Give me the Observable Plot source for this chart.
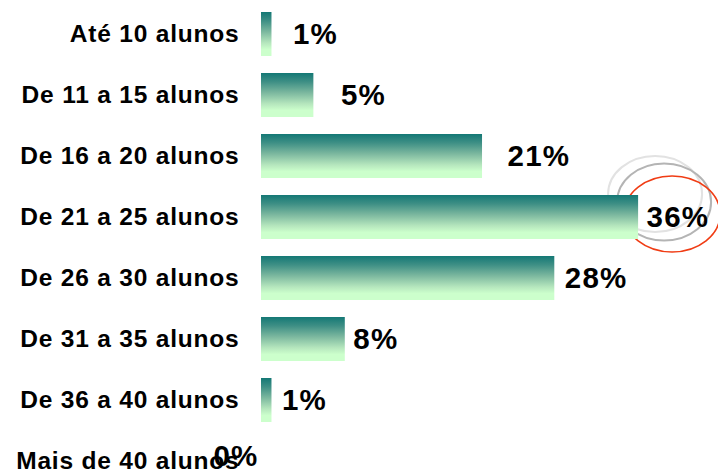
<!DOCTYPE html>
<html><head><meta charset="utf-8">
<script src="https://cdn.jsdelivr.net/npm/d3@7"></script>
<script src="https://cdn.jsdelivr.net/npm/@observablehq/plot@0.6"></script>
<style>
body{margin:0;background:#fff}
</style>
</head><body><div id="chart"></div>
<script>
const categories = ["Até 10 alunos","De 11 a 15 alunos","De 16 a 20 alunos","De 21 a 25 alunos","De 26 a 30 alunos","De 31 a 35 alunos","De 36 a 40 alunos","Mais de 40 alunos"];
const values = [1, 5, 21.1, 36, 28, 8, 1, 0];
const valueLabels = ["1%","5%","21%","36%","28%","8%","1%","0%"];
const highlighted = "De 21 a 25 alunos";

const data = categories.map((c, i) => ({category: c, value: values[i], label: valueLabels[i]}));
// label nudges (styling), per row
const labelNudge = [21, 27, 25, 8, 10, 8, 10, -48];
const labelLift = [0, 0, 0, 0, 0, 0, 0, -5];

const font = "'Liberation Sans', Arial, Helvetica, sans-serif";

const chart = Plot.plot({
  width: 718, height: 473, margin: 0,
  style: {fontFamily: font, background: "white", overflow: "visible"},
  x: {domain: [0, 40], range: [261, 680], axis: null},
  y: {domain: categories, range: [3, 492], paddingInner: 0.28, paddingOuter: 0.14, axis: null},
  marks: [
    Plot.barX(data, {x: "value", y: "category", fill: "#1a7a78"}),
    Plot.text(data, {x: 0, y: "category", text: "category", textAnchor: "end", dx: -22,
      fontSize: 24.5, fontWeight: "bold", fill: "black"}),
    ...data.map((d, i) => Plot.text([d], {x: "value", y: "category", text: "label", textAnchor: "start",
      dx: labelNudge[i], dy: labelLift[i], fontSize: 29.5, fontWeight: "bold", fill: "black"}))
  ]
});

const svg = d3.select(chart);
const defs = svg.insert("defs", ":first-child");
const grad = defs.append("linearGradient").attr("id", "barGrad")
  .attr("x1", 0).attr("y1", 0).attr("x2", 0).attr("y2", 1);
[[0, "#147875"], [0.2, "#3e8f85"], [0.45, "#7cb89f"], [0.7, "#b5e6bd"], [0.85, "#ccffcc"], [1, "#ccffcc"]]
  .forEach(([o, c]) => grad.append("stop").attr("offset", o).attr("stop-color", c));
svg.selectAll('g[aria-label="bar"]').attr("fill", "url(#barGrad)");
svg.selectAll('g[aria-label="bar"] rect').attr("fill", "url(#barGrad)");
const textGroups = svg.selectAll('g[aria-label="text"]').nodes();
textGroups.forEach((g, k) => d3.select(g).selectAll("text").style("letter-spacing", k === 0 ? "0.8px" : "1.2px"));

// highlight ellipses around the largest value label (drawn behind the bars)
const xs = chart.scale("x"), ys = chart.scale("y");
const i = categories.indexOf(highlighted);
const bx = xs.apply(values[i]);
const by = ys.apply(highlighted) + ys.bandwidth / 2;
const barNode = svg.select('g[aria-label="bar"]').node();
const eg = d3.select(chart.insertBefore(document.createElementNS("http://www.w3.org/2000/svg", "g"), barNode)).attr("fill", "none");
eg.append("ellipse").attr("cx", bx + 17).attr("cy", by - 23).attr("rx", 47).attr("ry", 38)
  .attr("stroke", "#e2e2e2").attr("stroke-width", 2);
eg.append("ellipse").attr("cx", bx + 26).attr("cy", by - 15).attr("rx", 47).attr("ry", 38.5)
  .attr("stroke", "#b4b4b4").attr("stroke-width", 2);
eg.append("ellipse").attr("cx", bx + 34).attr("cy", by - 3).attr("rx", 48).attr("ry", 38)
  .attr("stroke", "#f03c14").attr("stroke-width", 1.6);

document.getElementById("chart").append(chart);
</script>
</body></html>
